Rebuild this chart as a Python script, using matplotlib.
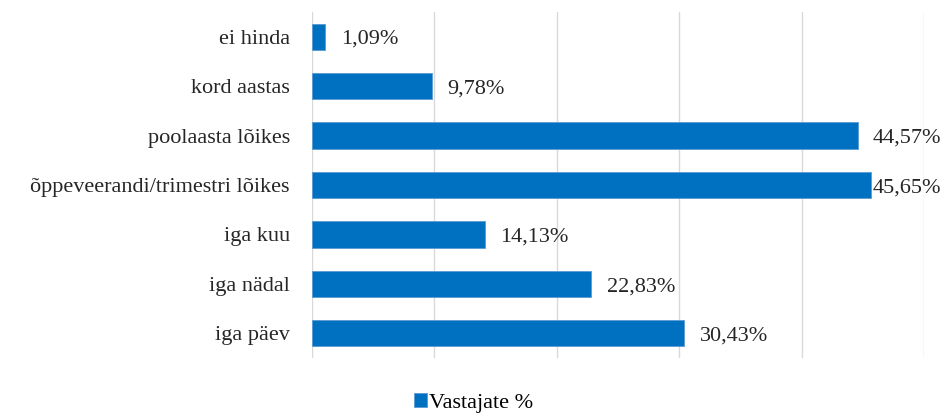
import matplotlib.pyplot as plt

categories = ["iga päev", "iga nädal", "iga kuu", "õppeveerandi/trimestri lõikes",
              "poolaasta lõikes", "kord aastas", "ei hinda"]
values = [30.43, 22.83, 14.13, 45.65, 44.57, 9.78, 1.09]
value_labels = ["30,43%", "22,83%", "14,13%", "45,65%", "44,57%", "9,78%", "1,09%"]
series_name = "Vastajate %"

plt.rcParams['font.family'] = ['Liberation Serif', 'DejaVu Serif']
FS = 16

fig = plt.figure(figsize=(9.47, 4.18), dpi=100)
ax = fig.add_axes([312 / 947, 1 - 358 / 418, (924 - 312) / 947, (358 - 12) / 418])

bars = ax.barh(range(len(categories)), values, height=0.53, color="#0070C0",
               edgecolor="#5B9BD5", linewidth=0.6, label=series_name, zorder=3)

for bar, lab in zip(bars, value_labels):
    # the longest bar has no room left, so its label sits right at the bar end
    dx = 1 if bar.get_width() > 45 else 11
    ax.annotate(lab, (bar.get_width(), bar.get_y() + bar.get_height() / 2),
                xytext=(dx, -2), textcoords="offset points", va="center", ha="left",
                fontsize=FS, color="#262626")

ax.set_xlim(0, 50)
ax.set_ylim(-0.5, len(categories) - 0.5)
ax.set_xticks([0, 10, 20, 30, 40, 50])
ax.set_xticklabels([])
ax.set_yticks(range(len(categories)))
ax.set_yticklabels(categories, fontsize=FS, color="#262626")
ax.tick_params(axis="both", length=0, pad=16)
ax.grid(axis="x", color="#D9D9D9", linewidth=1, zorder=0)
for s in ax.spines.values():
    s.set_visible(False)

fig.legend(loc="lower center", bbox_to_anchor=(0.5, -0.035), frameon=False,
           fontsize=FS, handlelength=0.6, handleheight=0.6, handletextpad=0.1)

fig.savefig("out.png", dpi=100)
